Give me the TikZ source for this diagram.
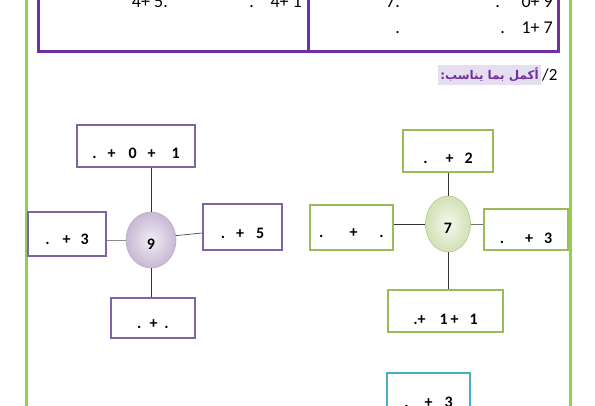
\documentclass[tikz,border=0pt]{standalone}
\usepackage{fontspec}
\setmainfont{Carlito}
\newfontfamily\arabicfont[Script=Arabic]{DejaVu Sans}
\TeXXeTstate=1
\usetikzlibrary{shapes.geometric}
\definecolor{boxpurple}{HTML}{8064A2}
\definecolor{boxgreen}{HTML}{9BBB59}
\definecolor{boxcyan}{HTML}{4BACC6}
\definecolor{tabpurple}{HTML}{7030A0}
\definecolor{railgreen}{HTML}{92D050}
\definecolor{hilite}{HTML}{E5DEEE}
\newcommand{\gp}[1]{\hspace{#1pt}}

\begin{document}
\begin{tikzpicture}[x=1pt,y=-1pt,every node/.style={inner sep=0pt},
  pbox/.style={draw=boxpurple,line width=1.8pt,text depth=0pt,inner xsep=0pt,font=\bfseries\fontsize{16}{18}\selectfont},
  gbox/.style={pbox,draw=boxgreen,line width=2.4pt},
  cbox/.style={pbox,draw=boxcyan,line width=2.4pt},
  pball/.style={ellipse,draw=boxpurple!55,line width=.6pt,inner color=boxpurple!12,outer color=boxpurple!45,
    text height=18pt,text depth=0pt,font=\bfseries\fontsize{16}{18}\selectfont},
  gball/.style={pball,draw=boxgreen!75,inner color=boxgreen!10,outer color=boxgreen!45},
  conn/.style={draw=black!80,line width=.6pt},
  tabtxt/.style={anchor=base east,font=\fontsize{18}{20}\selectfont}]
\useasboundingbox (0,0) rectangle (595,405);
\clip (0,0) rectangle (595,405);
% page frame
\draw[railgreen,line width=3pt] (26,-5) -- (26,410);
\draw[railgreen,line width=3pt] (570,-5) -- (570,410);
\draw[tabpurple,line width=3pt] (38,-10) rectangle (558,51.5);
\draw[tabpurple,line width=3pt] (308,-10) -- (308,51.5);
% table text
\node[tabtxt] (r1a) at (168,7) {4+ 5.};
\node[tabtxt] (r1b) at (254,7) {.};
\node[tabtxt] (r1c) at (302,7) {4+ 1};
\node[tabtxt] (r1d) at (400,7) {7.};
\node[tabtxt] (r1e) at (500,7) {.};
\node[tabtxt] (r1f) at (553,7) {0+ 9};
\node[tabtxt] (r2d) at (400,33) {.};
\node[tabtxt] (r2e) at (505,33) {.};
\node[tabtxt] (r2f) at (553,33) {1+ 7};
% question
\node[fill=hilite,inner xsep=2pt,inner ysep=3pt,anchor=east,text=tabpurple] (q2) at (541,75)
  {\arabicfont\bfseries\fontsize{12}{14}\selectfont\beginR أكمل بما يناسب:\endR};
\node[anchor=west,font=\fontsize{17}{19}\selectfont] (q2n) at (542,75) {/2};
% left diagram
\node[pball,minimum width=50pt,minimum height=56pt] (cA) at (151,240) {9};
\node[pbox,minimum width=118pt,inner ysep=9pt,text height=24pt] (tA) at (136,146) {.\gp{11}+\gp{13}0\gp{11}+\gp{16}1};
\node[pbox,minimum width=78pt,inner ysep=12pt,text height=20pt] (lA) at (67,234) {.\gp{13}+\gp{10}3};
\node[pbox,minimum width=79pt,inner ysep=12pt,text height=22pt] (rA) at (242.5,227) {.\gp{11}+\gp{12}5};
\node[pbox,minimum width=84pt,inner ysep=10pt,text height=20pt] (bA) at (153,318) {.\gp{8}+\gp{7}.};
\draw[conn] (cA.north) -- (cA.north |- tA.south);
\draw[conn,black!45] (cA.west) -- (cA.west -| lA.east);
\draw[conn] (cA.10) -- ([yshift=-6pt]rA.west);
\draw[conn] (cA.south) -- (cA.south |- bA.north);
% right diagram
\node[gball,minimum width=45pt,minimum height=56pt] (cB) at (448,224) {7};
\node[gbox,minimum width=90pt,inner ysep=9pt,text height=24pt] (tB) at (448,151) {.\gp{18}+\gp{11}2};
\node[gbox,minimum width=83pt,inner ysep=13pt,text height=19pt] (lB) at (351.5,227.5) {.\gp{26}+\gp{22}.};
\node[gbox,minimum width=84pt,inner ysep=7pt,text height=27pt] (rB) at (526,229.5) {.\gp{21}+\gp{11}3};
\node[gbox,minimum width=115pt,inner ysep=8pt,text height=26pt] (bB) at (445.5,311) {.+\gp{14}1\gp{3}+\gp{11}1};
\draw[conn] (cB.north) -- (cB.north |- tB.south);
\draw[conn] (cB.west) -- (cB.west -| lB.east);
\draw[conn,black!55] (cB.east) -- (cB.east -| rB.west);
\draw[conn] (cB.south) -- (cB.south |- bB.north);
% next diagram
\node[cbox,minimum width=83pt,inner ysep=12pt,text height=22pt] (tC) at (428.5,396) {.\gp{16}+\gp{12}3};
\end{tikzpicture}
\end{document}
